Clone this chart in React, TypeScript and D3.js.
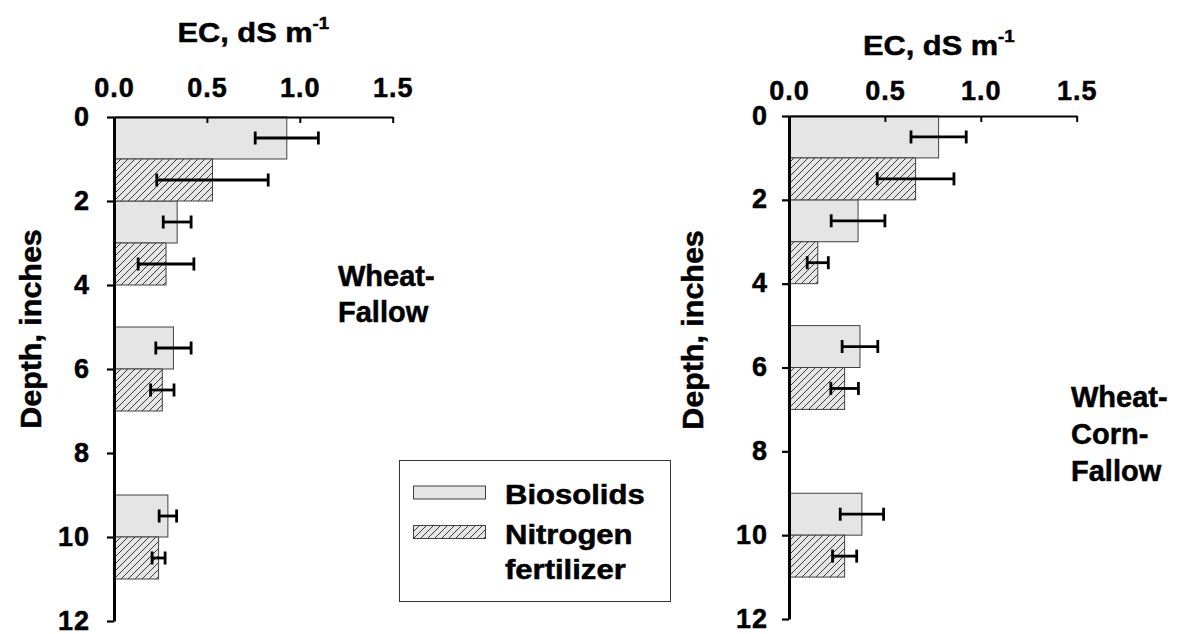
import { useEffect, useRef } from "react";
import * as d3 from "d3";

// Depth (inches) at the top of each 1-inch layer
const bioDepth = [0, 2, 5, 9];
const nitroDepth = [1, 3, 6, 10];

// Wheat-Fallow EC, dS m-1 (mean and error)
const wfBio = [0.93, 0.34, 0.32, 0.29];
const wfBioErr = [0.17, 0.075, 0.095, 0.047];
const wfNitro = [0.53, 0.28, 0.26, 0.24];
const wfNitroErr = [0.3, 0.15, 0.063, 0.035];

// Wheat-Corn-Fallow EC, dS m-1 (mean and error)
const wcfBio = [0.78, 0.36, 0.37, 0.38];
const wcfBioErr = [0.144, 0.14, 0.093, 0.113];
const wcfNitro = [0.66, 0.15, 0.29, 0.29];
const wcfNitroErr = [0.2, 0.055, 0.072, 0.063];

const ecTicks = [0, 0.5, 1.0, 1.5];
const depthTicks = [0, 2, 4, 6, 8, 10, 12];
const panelNames = [["Wheat-", "Fallow"], ["Wheat-", "Corn-", "Fallow"]];
const legendLabels = [["Biosolids"], ["Nitrogen", "fertilizer"]];

const FONT = "'Liberation Sans', Arial, Helvetica, sans-serif";

export default function App(): JSX.Element {
    const svgRef = useRef<SVGSVGElement>(null);
    const width = 1180;
    const height = 634;

    useEffect(() => {
        const svg = d3.select(svgRef.current);
        svg.selectAll("*").remove();

        // hatch pattern for nitrogen bars
        const defs = svg.append("defs");
        const pat = defs.append("pattern")
            .attr("id", "hatch")
            .attr("patternUnits", "userSpaceOnUse")
            .attr("width", 7)
            .attr("height", 7);
        pat.append("rect").attr("width", 7).attr("height", 7).attr("fill", "#e6e6e6");
        pat.append("path")
            .attr("d", "M0,7 L7,0 M-1,1 L1,-1 M6,8 L8,6")
            .attr("stroke", "#3a3a3a")
            .attr("stroke-width", 1);

        // bold text helper, stretched a bit horizontally like the original
        const boldText = (parent: any, tx: number, ty: number, size: number, sx: number, rot = 0) =>
            parent.append("g")
                .attr("transform", `translate(${tx},${ty}) rotate(${rot}) scale(${sx},1)`)
                .append("text")
                .attr("font-family", FONT)
                .attr("font-weight", "bold")
                .attr("font-size", size)
                .attr("fill", "#000")
                .attr("stroke", "#000")
                .attr("stroke-width", 0.5);

        const panels = [
            { x0: 114, x1: 392.7, y0: 117, y1: 621, bio: wfBio, bioErr: wfBioErr, nitro: wfNitro, nitroErr: wfNitroErr,
              titleY: 42, titleDx: 0, xPad: 20, yPad: 17, yLabelX: 41, yLabelY: 329, name: panelNames[0], nameX: 338, nameY: 286, nameStep: 36 },
            { x0: 789, x1: 1076.7, y0: 116, y1: 619, bio: wcfBio, bioErr: wcfBioErr, nitro: wcfNitro, nitroErr: wcfNitroErr,
              titleY: 55, titleDx: 6, xPad: 16, yPad: 14, yLabelX: 703, yLabelY: 330, name: panelNames[1], nameX: 1071, nameY: 407, nameStep: 37 },
        ];

        panels.forEach(p => {
            const x = d3.scaleLinear().domain([0, 1.5]).range([p.x0, p.x1]);
            const y = d3.scaleLinear().domain([0, 12]).range([p.y0, p.y1]);
            const g = svg.append("g");

            const series = [
                { depth: bioDepth, vals: p.bio, errs: p.bioErr, fill: "#e5e5e5" },
                { depth: nitroDepth, vals: p.nitro, errs: p.nitroErr, fill: "url(#hatch)" },
            ];

            series.forEach(s => {
                g.selectAll(null)
                    .data(s.vals)
                    .enter().append("rect")
                    .attr("x", x(0))
                    .attr("y", (d, i) => y(s.depth[i]))
                    .attr("width", d => x(d) - x(0))
                    .attr("height", (d, i) => y(s.depth[i] + 1) - y(s.depth[i]))
                    .attr("fill", s.fill)
                    .attr("stroke", "#404040")
                    .attr("stroke-width", 1);
            });

            // error bars
            series.forEach(s => {
                s.vals.forEach((v, i) => {
                    const cy = y(s.depth[i] + 0.5);
                    const lo = x(v - s.errs[i]);
                    const hi = x(v + s.errs[i]);
                    const eb = g.append("g").attr("stroke", "#000").attr("stroke-width", 2.8);
                    eb.append("line").attr("x1", lo).attr("x2", hi).attr("y1", cy).attr("y2", cy);
                    eb.append("line").attr("x1", lo).attr("x2", lo).attr("y1", cy - 6.5).attr("y2", cy + 6.5);
                    eb.append("line").attr("x1", hi).attr("x2", hi).attr("y1", cy - 6.5).attr("y2", cy + 6.5);
                });
            });

            // top x axis
            const xAxis = g.append("g")
                .attr("transform", `translate(0,${p.y0})`)
                .call(d3.axisTop(x).tickValues(ecTicks).tickSizeInner(-6).tickSizeOuter(0)
                    .tickPadding(p.xPad).tickFormat(d3.format(".1f")));
            xAxis.select(".domain").attr("stroke-width", 2.2);
            xAxis.selectAll(".tick line").attr("stroke-width", 2);

            // left y axis
            const yAxis = g.append("g")
                .attr("transform", `translate(${p.x0},0)`)
                .call(d3.axisLeft(y).tickValues(depthTicks).tickSizeInner(7).tickSizeOuter(0)
                    .tickPadding(p.yPad));
            yAxis.select(".domain").attr("stroke-width", 3);
            yAxis.selectAll(".tick line").attr("stroke-width", 2.2);
            yAxis.selectAll(".tick text").attr("dy", "0.3em");

            g.selectAll(".tick text")
                .attr("font-family", FONT)
                .attr("font-size", 27)
                .attr("font-weight", "bold")
                .attr("letter-spacing", 1)
                .attr("fill", "#000")
                .attr("stroke", "#000")
                .attr("stroke-width", 0.5);

            // axis titles
            const title = boldText(g, (p.x0 + p.x1) / 2 + p.titleDx, p.titleY, 28, 1.1)
                .attr("text-anchor", "middle");
            title.append("tspan").text("EC, dS m");
            title.append("tspan").attr("font-size", 17).attr("dy", -13).text("-1");

            boldText(g, p.yLabelX, p.yLabelY, 29, 1.05, -90)
                .attr("text-anchor", "middle")
                .text("Depth, inches");

            // panel name
            const nm = boldText(g, p.nameX, p.nameY, 29, 1);
            p.name.forEach((line, i) => {
                nm.append("tspan").attr("x", 0).attr("y", i * p.nameStep).text(line);
            });
        });

        // legend
        const lg = svg.append("g");
        lg.append("rect")
            .attr("x", 399.5).attr("y", 460.5).attr("width", 271).attr("height", 141)
            .attr("fill", "#fff").attr("stroke", "#333").attr("stroke-width", 1);
        const swFill = ["#e5e5e5", "url(#hatch)"];
        const swY = [486, 525.5];
        legendLabels.forEach((lines, i) => {
            lg.append("rect")
                .attr("x", 413.5).attr("y", swY[i]).attr("width", 72).attr("height", 13)
                .attr("fill", swFill[i]).attr("stroke", "#404040").attr("stroke-width", 1);
            const t = boldText(lg, 505, swY[i] + 18, 27, 1.15);
            lines.forEach((line, j) => {
                t.append("tspan").attr("x", 0).attr("y", j * 36).text(line);
            });
        });
    }, []);

    return (
        <svg ref={svgRef} width={width} height={height}
            style={{ position: "absolute", left: 0, top: 0, background: "#fff" }} />
    );
}
